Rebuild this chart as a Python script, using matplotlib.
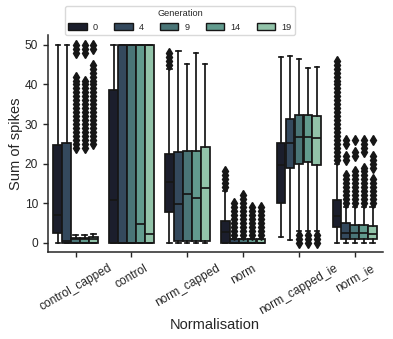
import matplotlib
matplotlib.use('Agg')
import matplotlib.pyplot as plt
import matplotlib.patches as mpatches
import numpy as np

plt.rcParams['font.family'] = ['Liberation Sans', 'DejaVu Sans']

# categories and hue levels
cats = ['control_capped', 'control', 'norm_capped', 'norm', 'norm_capped_ie', 'norm_ie']
gens = [0, 4, 9, 14, 19]
colors = ['#1b1e2c', '#34495d', '#4a7577', '#629b8e', '#92c3a9']

# box stats, one row per category, one column per generation
whislo = [[0, 0, 0, 0, 0],
          [0, 0, 0, 0, 0],
          [0, 0, 0, 0, 0],
          [0, 0, 0, 0, 0],
          [1.4, 0.7, 3, 3, 3],
          [0, 0, 0, 0, 0]]
q1 = [[2.4, 0, 0, 0, 0],
      [0, 0, 0, 0, 0],
      [7.7, 0.5, 0.4, 0.4, 0.4],
      [0, 0, 0, 0, 0],
      [10.0, 18.8, 19.9, 20.3, 19.7],
      [3.9, 0.9, 0.9, 0.9, 0.9]]
med = [[6.9, 0.5, 1, 1, 1],
       [10.8, 0, 0, 4.7, 2.1],
       [15.3, 9.7, 12.2, 11.2, 13.8],
       [2.7, 0, 0, 0, 0],
       [19.7, 25.2, 26.8, 26.7, 26.4],
       [6.8, 2.5, 2.5, 2.4, 2.2]]
q3 = [[24.7, 25.2, 1.2, 1.2, 1.3],
      [38.5, 50, 50, 50, 50],
      [22.5, 22.9, 23.2, 23.2, 24.1],
      [5.5, 1, 1, 1, 1],
      [25.2, 31.3, 32.3, 32.3, 32.0],
      [10.8, 4.9, 4.5, 4.5, 4.2]]
whishi = [[50, 50, 2, 2, 2.3],
          [50, 50, 50, 50, 50],
          [44, 48.4, 45.2, 48, 45.2],
          [13, 1, 1, 1, 1],
          [46.9, 47.1, 46.4, 44.1, 44.3],
          [20, 9, 9, 9, 9]]
# outliers: spike sums are integer counts, every count inside each (lo, hi) run is present
flier_runs = [[[], [], [(24, 42), (48, 50)], [(24, 41), (48, 50)], [(25, 45), (49, 50)]],
              [[], [], [], [], []],
              [[(45, 48)], [], [], [], []],
              [[(14, 18)], [(2, 10)], [(2, 12)], [(2, 9)], [(2, 9)]],
              [[], [], [(0, 2)], [(0, 2)], [(0, 2)]],
              [[(21, 46)], [(10, 17), (21, 22), (25, 26)], [(10, 18), (22, 23), (26, 26)],
               [(10, 19), (23, 26)], [(10, 16), (19, 22), (26, 26)]]]

line_col = '#161616'
text_col = '#262626'

fig = plt.figure(figsize=(3.93, 3.39), dpi=100)
ax = fig.add_axes([0.1214, 0.2552, 0.8524, 0.6413])

n = len(gens)
group_w = 0.8
each = group_w / n
offsets = np.linspace(0, group_w - each, n) - (group_w - each) / 2

for j, g in enumerate(gens):
    stats = []
    pos = np.arange(len(cats)) + offsets[j]
    for i in range(len(cats)):
        fl = []
        for lo, hi in flier_runs[i][j]:
            fl.extend(range(lo, hi + 1))
            # overlapping outliers merge into a solid band
            ax.vlines(pos[i], lo, hi, color=line_col, linewidth=2.4, zorder=2)
        stats.append(dict(med=med[i][j], q1=q1[i][j], q3=q3[i][j],
                          whislo=whislo[i][j], whishi=whishi[i][j], fliers=fl))
    ax.bxp(stats, positions=pos, widths=each * 0.98, patch_artist=True,
           boxprops=dict(facecolor=colors[j], edgecolor=line_col, linewidth=1.25),
           whiskerprops=dict(color=line_col, linewidth=1.25),
           capprops=dict(color=line_col, linewidth=1.25),
           medianprops=dict(color=line_col, linewidth=1.25),
           flierprops=dict(marker='d', markersize=4.8, markerfacecolor=line_col,
                           markeredgecolor=line_col, markeredgewidth=1.0,
                           linestyle='none'),
           manage_ticks=False)

ax.set_xlim(-0.5, len(cats) - 0.5)
ax.set_ylim(-2.5, 52.5)
ax.set_xticks(range(len(cats)))
ax.set_xticklabels(cats, rotation=30)
ax.set_yticks([0, 10, 20, 30, 40, 50])
ax.tick_params(labelsize=8.6, colors=text_col, length=3.5, width=1)
ax.spines['top'].set_visible(False)
ax.spines['right'].set_visible(False)
for s in ['left', 'bottom']:
    ax.spines[s].set_color(text_col)
    ax.spines[s].set_linewidth(1.1)

ax.set_xlabel('Normalisation', fontsize=10.5, color=text_col, labelpad=0.5)
ax.set_ylabel('Sum of spikes', fontsize=10.5, color=text_col, labelpad=1.5)

handles = [mpatches.Patch(facecolor=c, edgecolor=line_col, linewidth=1) for c in colors]
leg = ax.legend(handles, [str(g) for g in gens], title='Generation', ncol=5,
                loc='lower left', bbox_to_anchor=(0.052, 1.0), borderaxespad=0,
                fontsize=6.6, title_fontsize=6.6, handlelength=2.0, handleheight=0.7,
                handletextpad=0.7, columnspacing=1.75, borderpad=0.35, frameon=True)
leg.get_frame().set_edgecolor('#d0d0d0')
for t in leg.get_texts():
    t.set_color(text_col)
leg.get_title().set_color(text_col)

fig.savefig('out.png', dpi=100)
